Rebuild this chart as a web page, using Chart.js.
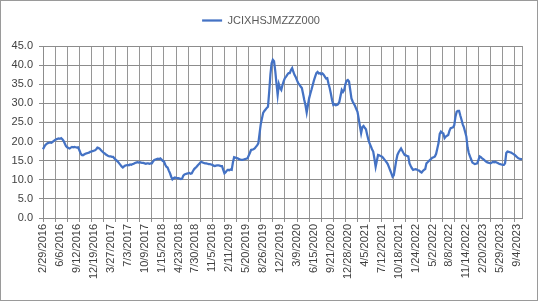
<!DOCTYPE html>
<html>
<head>
<meta charset="utf-8">
<script src="https://cdn.jsdelivr.net/npm/chart.js@4"></script>
<style>
html,body{margin:0;padding:0;background:#fff;}
#wrap{position:relative;width:538px;height:301px;}
</style>
</head>
<body>
<div id="wrap"><canvas id="c" width="538" height="301"></canvas></div>
<script>
const seriesName = 'JCIXHSJMZZZ000';
const startDate = '2016-02-29';
const tickLabels = ['2/29/2016','6/6/2016','9/12/2016','12/19/2016','3/27/2017','7/3/2017','10/9/2017','1/15/2018','4/23/2018','7/30/2018','11/5/2018','2/11/2019','5/20/2019','8/26/2019','12/2/2019','3/9/2020','6/15/2020','9/21/2020','12/28/2020','4/5/2021','7/12/2021','10/18/2021','1/24/2022','5/2/2022','8/8/2022','11/14/2022','2/20/2023','5/29/2023','9/4/2023'];
const yTicks = [0,5,10,15,20,25,30,35,40,45];

const v2016 = [18.0,18.6,19.1,19.4,19.6,19.7,19.8,19.7,19.9,20.2,
  20.4,20.6,20.7,20.8,20.7,20.9,20.6,20.2,19.5,18.8,
  18.5,18.3,18.2,18.4,18.6,18.5,18.6,18.5,18.4,18.5,
  17.8,17.0,16.5,16.4,16.6,16.8,16.9,17.0,17.1,17.3,
  17.4,17.5,17.6,17.7];
const v2017 = [18.0,18.4,18.3,18.1,17.7,17.4,
  17.1,16.9,16.6,16.4,16.2,16.1,16.1,16.0,16.0,15.6,
  15.3,15.0,14.7,14.3,13.9,13.5,13.2,13.5,13.7,13.8,
  13.9,13.8,14.0,13.9,14.1,14.2,14.4,14.5,14.6,14.5,
  14.6,14.5,14.4,14.4,14.3,14.2,14.3,14.3,14.2,14.3,
  14.3,14.8,15.2,15.3,15.4,15.5];
const v2018 = [15.4,15.6,15.3,14.9,
  14.8,14.0,13.4,13.2,12.4,11.7,10.8,10.1,10.4,10.6,
  10.5,10.4,10.4,10.3,10.2,10.3,11.1,11.4,11.5,11.6,
  11.7,11.8,11.6,11.7,12.3,12.8,13.1,13.4,13.8,14.1,
  14.5,14.7,14.5,14.4,14.3,14.3,14.2,14.1,14.1,14.0,
  13.9,13.7,13.6,13.7,13.8,13.8,13.7,13.6,13.6];
const v2019 = [12.6,
  11.7,12.0,12.4,12.6,12.5,12.7,12.6,14.5,15.9,15.8,
  15.7,15.6,15.4,15.3,15.2,15.2,15.3,15.4,15.5,15.6,
  16.3,17.0,17.8,17.9,18.0,18.2,18.6,19.0,19.5,22.0,
  24.5,26.0,27.5,28.0,28.4,28.8,29.1,33.0,37.5,40.5,
  41.4,41.0,38.5,35.3,32.2,35.0,34.0,33.5,34.8,35.8,
  36.6];
const v2020 = [37.0,37.5,37.9,37.9,38.7,39.2,38.2,37.4,36.8,
  36.0,35.3,34.9,34.4,34.0,32.5,30.9,29.5,27.6,29.5,
  31.3,32.5,33.6,34.8,36.0,37.0,37.9,38.2,37.8,37.9,
  37.6,37.8,37.5,37.0,36.5,36.6,35.2,34.0,32.5,30.8,
  29.6,29.8,29.5,29.6,29.8,30.4,32.0,33.5,33.0,33.5,
  35.0,35.9,36.1];
const v2021 = [35.7,33.5,31.3,30.5,29.9,29.3,28.5,
  27.8,26.0,24.0,22.2,23.8,24.1,23.6,23.2,21.8,20.5,
  19.5,18.8,18.0,17.4,15.5,13.4,15.0,16.5,16.4,16.2,
  16.1,15.8,15.4,15.0,14.6,14.1,13.3,12.5,11.7,10.8,
  11.2,13.0,15.0,16.5,17.2,17.7,18.2,17.6,17.0,16.5,
  16.4,16.2,16.1,14.3,13.6];
const v2022 = [13.0,12.6,12.7,12.8,12.7,
  12.5,12.4,12.1,11.9,12.3,12.6,12.8,14.3,14.6,14.9,
  15.2,15.5,15.8,15.9,16.1,16.8,18.2,19.6,22.0,22.6,
  22.3,22.1,20.9,21.3,21.5,21.7,22.8,23.5,23.6,23.7,
  24.3,26.5,27.8,28.0,28.0,26.8,25.7,24.5,23.7,22.5,
  21.3,18.5,17.0,16.1,15.3,14.5,14.3];
const v2023 = [14.1,14.2,14.3,
  15.2,16.1,15.9,15.6,15.4,15.1,14.8,14.6,14.5,14.4,
  14.3,14.5,14.7,14.6,14.7,14.5,14.4,14.2,14.1,14.0,
  13.9,13.9,14.3,17.0,17.4,17.3,17.2,17.1,16.9,16.7,
  16.5,16.2,15.9,15.6,15.5,15.4,15.4];

const values = [].concat(v2016,v2017,v2018,v2019,v2020,v2021,v2022,v2023);

// weekly date categories
const categories = [];
(function(){
  const d0 = new Date(startDate + 'T00:00:00Z');
  for (let i = 0; i < values.length; i++) {
    const d = new Date(d0.getTime() + i * 7 * 86400000);
    categories.push((d.getUTCMonth()+1) + '/' + d.getUTCDate() + '/' + d.getUTCFullYear());
  }
})();

const LABEL_EVERY = 14;
const GRID_EVERY = 10;
const last = values.length - 1;

const borderPlugin = {
  id: 'outerBorder',
  beforeInit(chart) {
    const lg = chart.legend;
    if (lg) {
      const fit = lg.fit;
      lg.fit = function() { fit.call(this); this.height = 41; };
    }
  },
  beforeDraw(chart) {
    const ctx = chart.ctx;
    ctx.save();
    ctx.fillStyle = '#ffffff';
    ctx.fillRect(0, 0, chart.width, chart.height);
    ctx.restore();
  },
  afterDraw(chart) {
    const ctx = chart.ctx;
    ctx.save();
    ctx.strokeStyle = '#9a9a9a';
    ctx.lineWidth = 1;
    ctx.strokeRect(0.5, 0.5, chart.width - 1, chart.height - 1);
    ctx.restore();
  }
};

new Chart(document.getElementById('c'), {
  type: 'line',
  data: {
    labels: categories,
    datasets: [{
      label: seriesName,
      data: values,
      borderColor: '#4472C4',
      backgroundColor: '#4472C4',
      borderWidth: 2.25,
      pointRadius: 0,
      tension: 0,
      fill: false
    }]
  },
  options: {
    responsive: false,
    animation: false,
    devicePixelRatio: 1,
    layout: { padding: { top: 5, right: 16, left: 0, bottom: 0 } },
    plugins: {
      tooltip: { enabled: false },
      legend: {
        display: true,
        position: 'top',
        align: 'center',
        labels: {
          usePointStyle: true,
          pointStyle: 'line',
          pointStyleWidth: 20,
          boxHeight: 11,
          padding: 10,
          color: '#595959',
          font: { family: 'Liberation Sans', size: 11 }
        }
      }
    },
    scales: {
      x: {
        type: 'category',
        offset: false,
        border: { display: true, color: '#8c8c8c', width: 1 },
        grid: {
          display: true,
          drawOnChartArea: true,
          drawTicks: true,
          tickLength: 4,
          lineWidth: 1,
          color: (ctx) => (ctx.index % GRID_EVERY === 0 || ctx.index === last) ? '#969696' : 'rgba(0,0,0,0)',
          tickColor: (ctx) => (ctx.index % GRID_EVERY === 0) ? '#8c8c8c' : 'rgba(0,0,0,0)'
        },
        ticks: {
          autoSkip: false,
          maxRotation: 90,
          minRotation: 90,
          padding: 2,
          color: '#404040',
          font: { family: 'Liberation Sans', size: 11 },
          callback: function(value, index) {
            return (index % LABEL_EVERY === 0) ? (tickLabels[index / LABEL_EVERY] || '') : '';
          }
        },
        afterFit: (s) => { s.height = 83; }
      },
      y: {
        min: 0,
        max: 45,
        border: { display: true, color: '#8c8c8c', width: 1 },
        grid: {
          color: '#8c8c8c',
          lineWidth: 1,
          tickLength: 4,
          drawTicks: true
        },
        afterBuildTicks: (s) => { s.ticks = yTicks.map(v => ({ value: v })); },
        ticks: {
          padding: 6,
          color: '#404040',
          font: { family: 'Liberation Sans', size: 11 },
          callback: (v) => Number(v).toFixed(1)
        },
        afterFit: (s) => { s.width = 43; }
      }
    }
  },
  plugins: [borderPlugin]
});
</script>
</body>
</html>
